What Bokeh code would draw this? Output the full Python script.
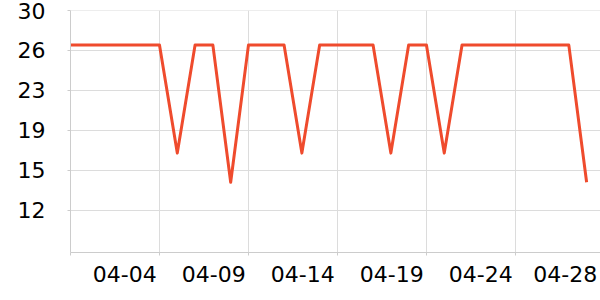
from bokeh.plotting import figure
from bokeh.models import Range1d, FixedTicker, LinearAxis
from bokeh.embed import file_html
from bokeh.resources import INLINE

dates = ["03-30", "03-31", "04-01", "04-02", "04-03", "04-04", "04-05", "04-06",
         "04-07", "04-08", "04-09", "04-10", "04-11", "04-12", "04-13", "04-14",
         "04-15", "04-16", "04-17", "04-18", "04-19", "04-20", "04-21", "04-22",
         "04-23", "04-24", "04-25", "04-26", "04-27", "04-28"]
values = [26.8, 26.8, 26.8, 26.8, 26.8, 26.8, 16.8, 26.8,
          26.8, 14.1, 26.8, 26.8, 26.8, 16.8, 26.8, 26.8,
          26.8, 26.8, 16.8, 26.8, 26.8, 16.8, 26.8, 26.8,
          26.8, 26.8, 26.8, 26.8, 26.8, 14.1]
y_ticks = [30, 26.3, 22.6, 18.9, 15.2, 11.5]
y_tick_labels = ["30", "26", "23", "19", "15", "12"]
x_grid_dates = ["03-30", "04-04", "04-09", "04-14", "04-19", "04-24"]
x_label_dates = ["04-04", "04-09", "04-14", "04-19", "04-24", "04-28"]

xs = list(range(len(dates)))
FONT = "DejaVu Sans"

p = figure(width=600, height=300, output_backend="svg", toolbar_location=None,
           x_range=Range1d(0, 29.78), y_range=Range1d(7.6, 30.001),
           min_border_left=70, min_border_right=0, min_border_top=10, min_border_bottom=48,
           x_axis_location=None)
p.outline_line_color = None
p.background_fill_color = "white"
p.border_fill_color = "white"

p.line(xs, values, line_color="#ef4b2d", line_width=3, line_join="round")

# grid
grid_idx = [dates.index(d) for d in x_grid_dates]
p.xgrid.ticker = FixedTicker(ticks=grid_idx)
p.xgrid.grid_line_color = "#dcdcdc"
p.ygrid.ticker = FixedTicker(ticks=y_ticks)
p.ygrid.grid_line_color = "#dcdcdc"

# y axis
ya = p.yaxis[0]
ya.ticker = FixedTicker(ticks=y_ticks)
ya.major_label_overrides = {t: l for t, l in zip(y_ticks, y_tick_labels)}
ya.axis_line_color = "#cccccc"
ya.major_tick_line_color = "#cccccc"
ya.major_tick_out = 3
ya.major_tick_in = 0
ya.minor_tick_line_color = None
ya.major_label_standoff = 22
ya.major_label_text_font = FONT
ya.major_label_text_font_size = "22px"
ya.major_label_text_color = "#000000"

# x axis: labels sit left of the grid ticks
label_pos = [dates.index(d) - 1.95 for d in x_label_dates[:-1]] + [dates.index(x_label_dates[-1]) - 1.2]
xa = LinearAxis(ticker=FixedTicker(ticks=label_pos, minor_ticks=grid_idx))
xa.major_label_overrides = {t: l for t, l in zip(label_pos, x_label_dates)}
xa.axis_line_color = "#cccccc"
xa.major_tick_line_color = None
xa.major_tick_out = 0
xa.major_tick_in = 0
xa.minor_tick_line_color = "#cccccc"
xa.minor_tick_out = 3
xa.minor_tick_in = 0
xa.major_label_standoff = 10
xa.major_label_text_font = FONT
xa.major_label_text_font_size = "22px"
xa.major_label_text_color = "#000000"
p.add_layout(xa, "below")

open("out.html", "w").write(file_html(p, INLINE))
